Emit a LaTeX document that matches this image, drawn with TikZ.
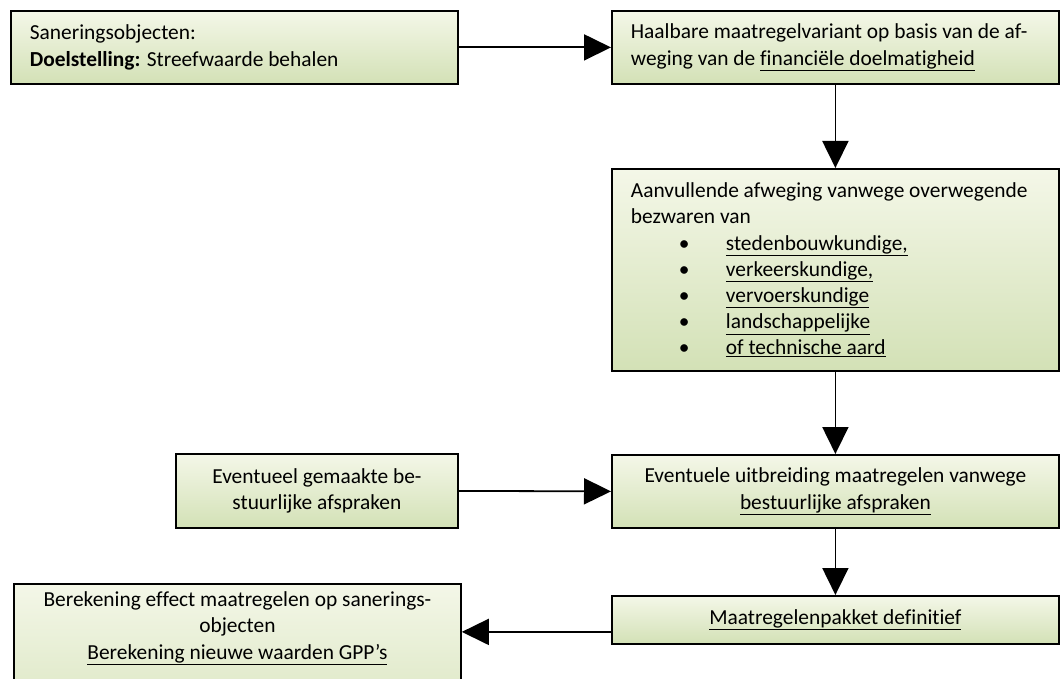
\documentclass[tikz,border=0pt]{standalone}
\usepackage{fontspec}
\setmainfont{Carlito}[Ligatures=NoCommon]
\usetikzlibrary{arrows.meta}
\definecolor{boxtop}{HTML}{F4F7E8}
\definecolor{boxbot}{HTML}{D3E1B6}
\newcommand{\opsom}[1]{\hspace*{48pt}\makebox[47pt][l]{•}\underline{#1}}

\begin{document}
\begin{tikzpicture}[x=1pt, y=-1pt,
    blok/.style   = {draw, line width=1.8pt, top color=boxtop, bottom color=boxbot, anchor=north west, inner ysep=0pt, font=\fontsize{21.4}{26.2}\selectfont},
    links/.style  = {blok, align=flush left, text width=409pt, inner xsep=19pt},
    midden/.style = {blok, align=center, minimum width=447pt},
    pijl/.style   = {draw, line width=1.8pt, -{Triangle[length=27pt, width=26pt]}}]
    \clip (0,0) rectangle (1063,679);

    \node[links, minimum height=73pt]  (sanering)    at (10,10)   {Saneringsobjecten:\\ \textbf{Doelstelling:} Streefwaarde behalen};
    \node[links, minimum height=73pt]  (haalbaar)    at (611,10)  {Haalbare maatregelvariant op basis van de af-\\ weging van de \underline{financiële doelmatigheid}};
    \node[links, minimum height=202pt] (aanvullend)  at (611,168) {
      Aanvullende afweging vanwege overwegende\\
      bezwaren van\\
      \opsom{stedenbouwkundige,}\\
      \opsom{verkeerskundige,}\\
      \opsom{vervoerskundige}\\
      \opsom{landschappelijke}\\
      \opsom{of technische aard}
    };
    \node[midden, minimum width=282pt, minimum height=74pt] (afspraken)   at (175,453) {Eventueel gemaakte be-\\ stuurlijke afspraken};
    \node[midden, minimum height=73pt]                      (uitbreiding) at (611,454) {Eventuele uitbreiding maatregelen vanwege\\ \underline{bestuurlijke afspraken}};
    \node[midden, minimum height=48pt]                      (pakket)      at (611,595) {\underline{Maatregelenpakket definitief}};
    \node[midden, inner ysep=8pt, text depth=95pt]          (berekening)  at (13,583)  {Berekening effect maatregelen op sanerings-\\ objecten\\ \underline{Berekening nieuwe waarden GPP’s}};

    \draw[pijl] (sanering.east)    -- (haalbaar.west);
    \draw[pijl] (haalbaar.south)   -- (aanvullend.north);
    \draw[pijl] (aanvullend.south) -- (uitbreiding.north);
    \draw[pijl] (afspraken.east)   -- (uitbreiding.west);
    \draw[pijl] (uitbreiding.south) -- (pakket.north);
    \draw[pijl] ([yshift=-12pt]pakket.west) -- ([yshift=-12pt]pakket.west -| berekening.east);
\end{tikzpicture}
\end{document}
